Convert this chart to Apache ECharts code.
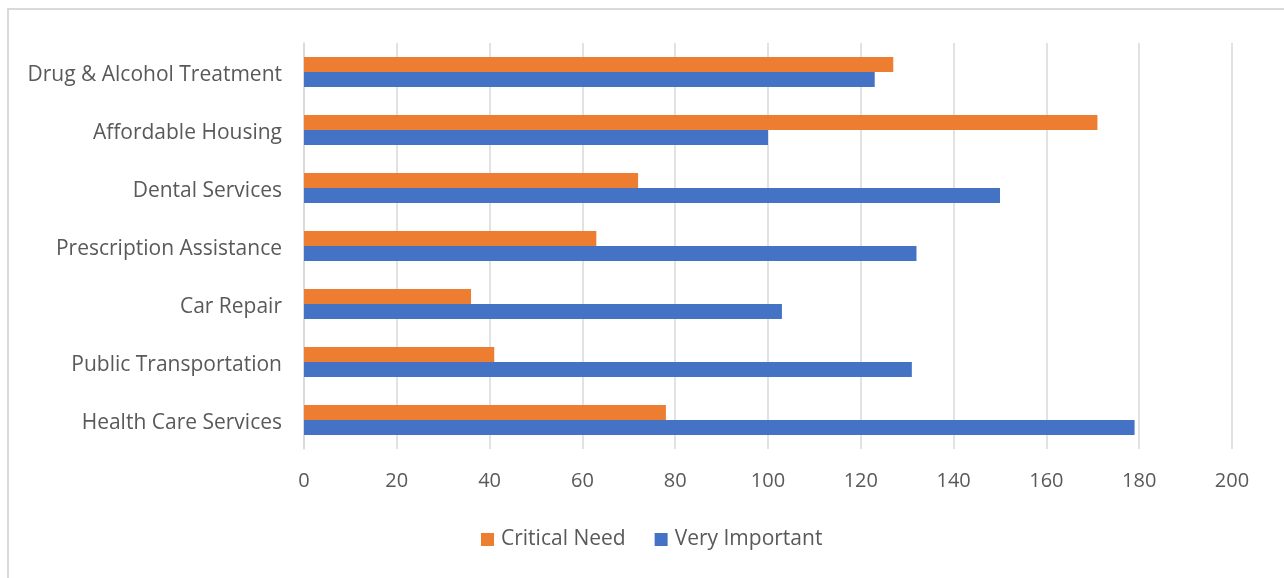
<!DOCTYPE html>
<html>
<head>
<meta charset="utf-8">
<script src="https://cdn.jsdelivr.net/npm/echarts@6/dist/echarts.min.js"></script>
<style>
  html, body { margin: 0; padding: 0; background: #fff; }
  #frame { position: absolute; left: 7px; top: 8px; width: 1280px; height: 580px;
           border: 2px solid #d9d9d9; box-sizing: border-box; }
  #chart { position: absolute; left: 0; top: 0; width: 1284px; height: 578px; }
</style>
</head>
<body>
<div id="frame"></div>
<div id="chart"></div>
<script>
// Services, listed bottom to top on the category axis
const categories = [
  'Health Care Services',
  'Public Transportation',
  'Car Repair',
  'Prescription Assistance',
  'Dental Services',
  'Affordable Housing',
  'Drug & Alcohol Treatment'
];
const criticalNeed = [78, 41, 36, 63, 72, 171, 127];
const veryImportant = [179, 131, 103, 132, 150, 100, 123];
const xTicks = [0, 20, 40, 60, 80, 100, 120, 140, 160, 180, 200];

const textColor = '#595959';
const font = '"Open Sans", Lato, sans-serif';

const chart = echarts.init(document.getElementById('chart'), null, { renderer: 'canvas' });
chart.setOption({
  animation: false,
  textStyle: { fontFamily: font },
  grid: { left: 304, right: 52, top: 43, bottom: 129, containLabel: false },
  legend: {
    data: ['Critical Need', 'Very Important'],
    bottom: 23,
    left: 476,
    icon: 'rect',
    itemWidth: 13,
    itemHeight: 13,
    itemGap: 29,
    textStyle: { color: textColor, fontSize: 21, fontFamily: font, padding: [0, 0, 0, 2] }
  },
  xAxis: {
    type: 'value',
    min: xTicks[0],
    max: xTicks[xTicks.length - 1],
    interval: xTicks[1] - xTicks[0],
    axisLine: { show: false },
    axisTick: { show: false },
    splitLine: { lineStyle: { color: '#d9d9d9', width: 1.5 } },
    axisLabel: { color: textColor, fontSize: 20, margin: 22, fontFamily: font }
  },
  yAxis: {
    type: 'category',
    data: categories,
    axisLine: { lineStyle: { color: '#d9d9d9', width: 1.5 } },
    axisTick: { show: false },
    axisLabel: {
      color: textColor, fontSize: 21, margin: 22, fontFamily: font,
      verticalAlign: 'middle', lineHeight: 21, align: 'right',
      // rich layout keeps the top padding, nudging labels down to the bar pair's midline
      formatter: v => v, rich: {}, padding: [6, 0, 0, 0]
    }
  },
  series: [
    {
      name: 'Critical Need',
      type: 'bar',
      data: criticalNeed,
      itemStyle: { color: '#ed7d31' },
      barGap: '0%',
      barCategoryGap: '48%'
    },
    {
      name: 'Very Important',
      type: 'bar',
      data: veryImportant,
      itemStyle: { color: '#4472c4' },
      barGap: '0%',
      barCategoryGap: '48%'
    }
  ]
});
</script>
</body>
</html>
